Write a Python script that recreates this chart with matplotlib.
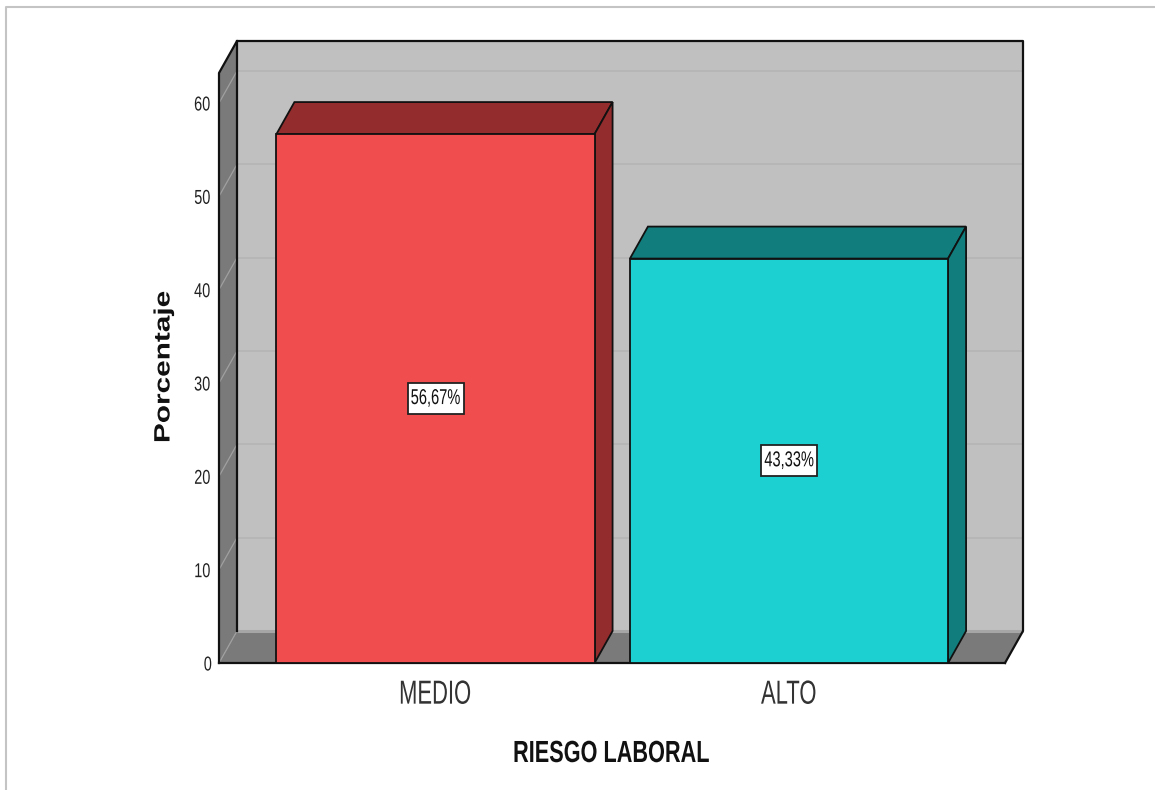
import matplotlib
matplotlib.use('Agg')
import matplotlib.pyplot as plt
from matplotlib.patches import Polygon, Rectangle
from matplotlib.patheffects import AbstractPathEffect
from matplotlib.transforms import Affine2D

categories = ['MEDIO', 'ALTO']
values = [56.67, 43.33]
value_labels = ['56,67%', '43,33%']
y_ticks = [0, 10, 20, 30, 40, 50, 60]

W, H = 1155, 790
front_colors = ['#EF4D4E', '#1CCFD0']
side_colors = ['#922C2D', '#127D7D']
WALL = '#C0C0C0'
SIDE = '#7A7A7A'
GRID = '#B6B6B6'

plt.rcParams['font.family'] = ['Liberation Sans']


class Squeeze(AbstractPathEffect):
    """Scale the glyphs of a text along its baseline, about their centre."""

    def __init__(self, sx):
        super().__init__()
        self.sx = sx

    def draw_path(self, renderer, gc, tpath, affine, rgbFace=None):
        xs = tpath.vertices[:, 0]
        cx = (xs.min() + xs.max()) / 2
        squeeze = Affine2D().translate(-cx, 0).scale(self.sx, 1).translate(cx, 0)
        renderer.draw_path(gc, tpath, squeeze + affine, rgbFace)


fig = plt.figure(figsize=(W / 100, H / 100), dpi=100, facecolor='white')

# plot plane in pixels
left, right, top, bottom = 219, 1005, 73, 663
ax = fig.add_axes([left / W, 1 - bottom / H, (right - left) / W, (bottom - top) / H])

px_y = 560 / 60  # pixels per percent
px_x = 353.5     # pixels per category
ax.set_ylim(0, (bottom - top) / px_y)
ax.set_xlim((left - 435.5) / px_x, (right - 435.5) / px_x)
ymax = ax.get_ylim()[1]
x0, x1 = ax.get_xlim()

# depth of the fake 3D box
dx = 18 / px_x
dy = 32 / px_y

for s in ax.spines.values():
    s.set_visible(False)
ax.patch.set_visible(False)


def poly(pts, color, edge='none', lw=0, z=1):
    ax.add_patch(Polygon(pts, closed=True, facecolor=color, edgecolor=edge,
                         linewidth=lw, zorder=z, clip_on=False, joinstyle='miter'))


# back wall, left wall and floor
poly([(x0 + dx, dy), (x1 + dx, dy), (x1 + dx, ymax + dy), (x0 + dx, ymax + dy)], WALL, z=1)
poly([(x0, 0), (x0 + dx, dy), (x0 + dx, ymax + dy), (x0, ymax)], SIDE, z=1)
poly([(x0, 0), (x1, 0), (x1 + dx, dy), (x0 + dx, dy)], SIDE, z=1)

# gridlines run along the back wall and down the side wall
for t in y_ticks:
    ax.plot([x0 + dx, x1 + dx], [t + dy, t + dy], color='#A6A6A6' if t == 0 else GRID,
            lw=2.2 if t == 0 else 1.3, zorder=2, clip_on=False, solid_capstyle='butt')
    ax.plot([x0, x0 + dx], [t, t + dy], color='#A0A0A0', lw=0.9, zorder=2, clip_on=False)

# box outline
outline = dict(color='#111111', lw=1.6, zorder=3, clip_on=False, solid_capstyle='projecting')
ax.plot([x0, x0, x0 + dx, x1 + dx, x1 + dx, x1], [0, ymax, ymax + dy, ymax + dy, dy, 0], **outline)
ax.plot([x0 + dx, x0 + dx], [dy, ymax + dy], **outline)
ax.plot([x0, x1], [0, 0], **outline)

# bars with their top and side faces
width = 0.9
for i, v in enumerate(values):
    a, b = i - width / 2, i + width / 2
    poly([(a, v), (b, v), (b + dx, v + dy), (a + dx, v + dy)], side_colors[i], '#111111', 1.3, z=4)
    poly([(b, 0), (b + dx, dy), (b + dx, v + dy), (b, v)], side_colors[i], '#111111', 1.3, z=4)
    ax.bar(i, v, width=width, color=front_colors[i], edgecolor='#111111', linewidth=1.3, zorder=5)
    box_w, box_h = 56 / px_x, 31 / px_y
    ax.add_patch(Rectangle((i - box_w / 2, v / 2 - box_h / 2), box_w, box_h, facecolor='white',
                           edgecolor='#222222', linewidth=1.3, zorder=6))
    ax.text(i, v / 2, value_labels[i], ha='center', va='center', fontsize=15.5, color='#111111',
            zorder=7, path_effects=[Squeeze(0.68)])

ax.set_xticks(range(len(categories)))
ax.set_xticklabels(categories, fontsize=24, color='#333333', path_effects=[Squeeze(0.66)])
ax.set_yticks(y_ticks)
ax.set_yticklabels([str(t) for t in y_ticks], fontsize=14.5, color='#222222',
                   path_effects=[Squeeze(0.72)])
ax.tick_params(axis='both', length=0)
ax.tick_params(axis='x', pad=12)
ax.tick_params(axis='y', pad=4)

fig.text(164 / W, 1 - 367 / H, 'Porcentaje', rotation=90, ha='center', va='center',
         fontsize=16, fontweight='bold', color='#111111', path_effects=[Squeeze(1.34)])
fig.text(611 / W, 1 - 754 / H, 'RIESGO LABORAL', ha='center', va='center',
         fontsize=22, fontweight='bold', color='#111111', path_effects=[Squeeze(0.71)])

# thin frame at the top and left edge
fig.add_artist(plt.Line2D([5.5 / W, 5.5 / W, 1], [0, 1 - 6.5 / H, 1 - 6.5 / H],
                          color='#C4C4C4', lw=1.5))

fig.savefig('out.png', dpi=100)
